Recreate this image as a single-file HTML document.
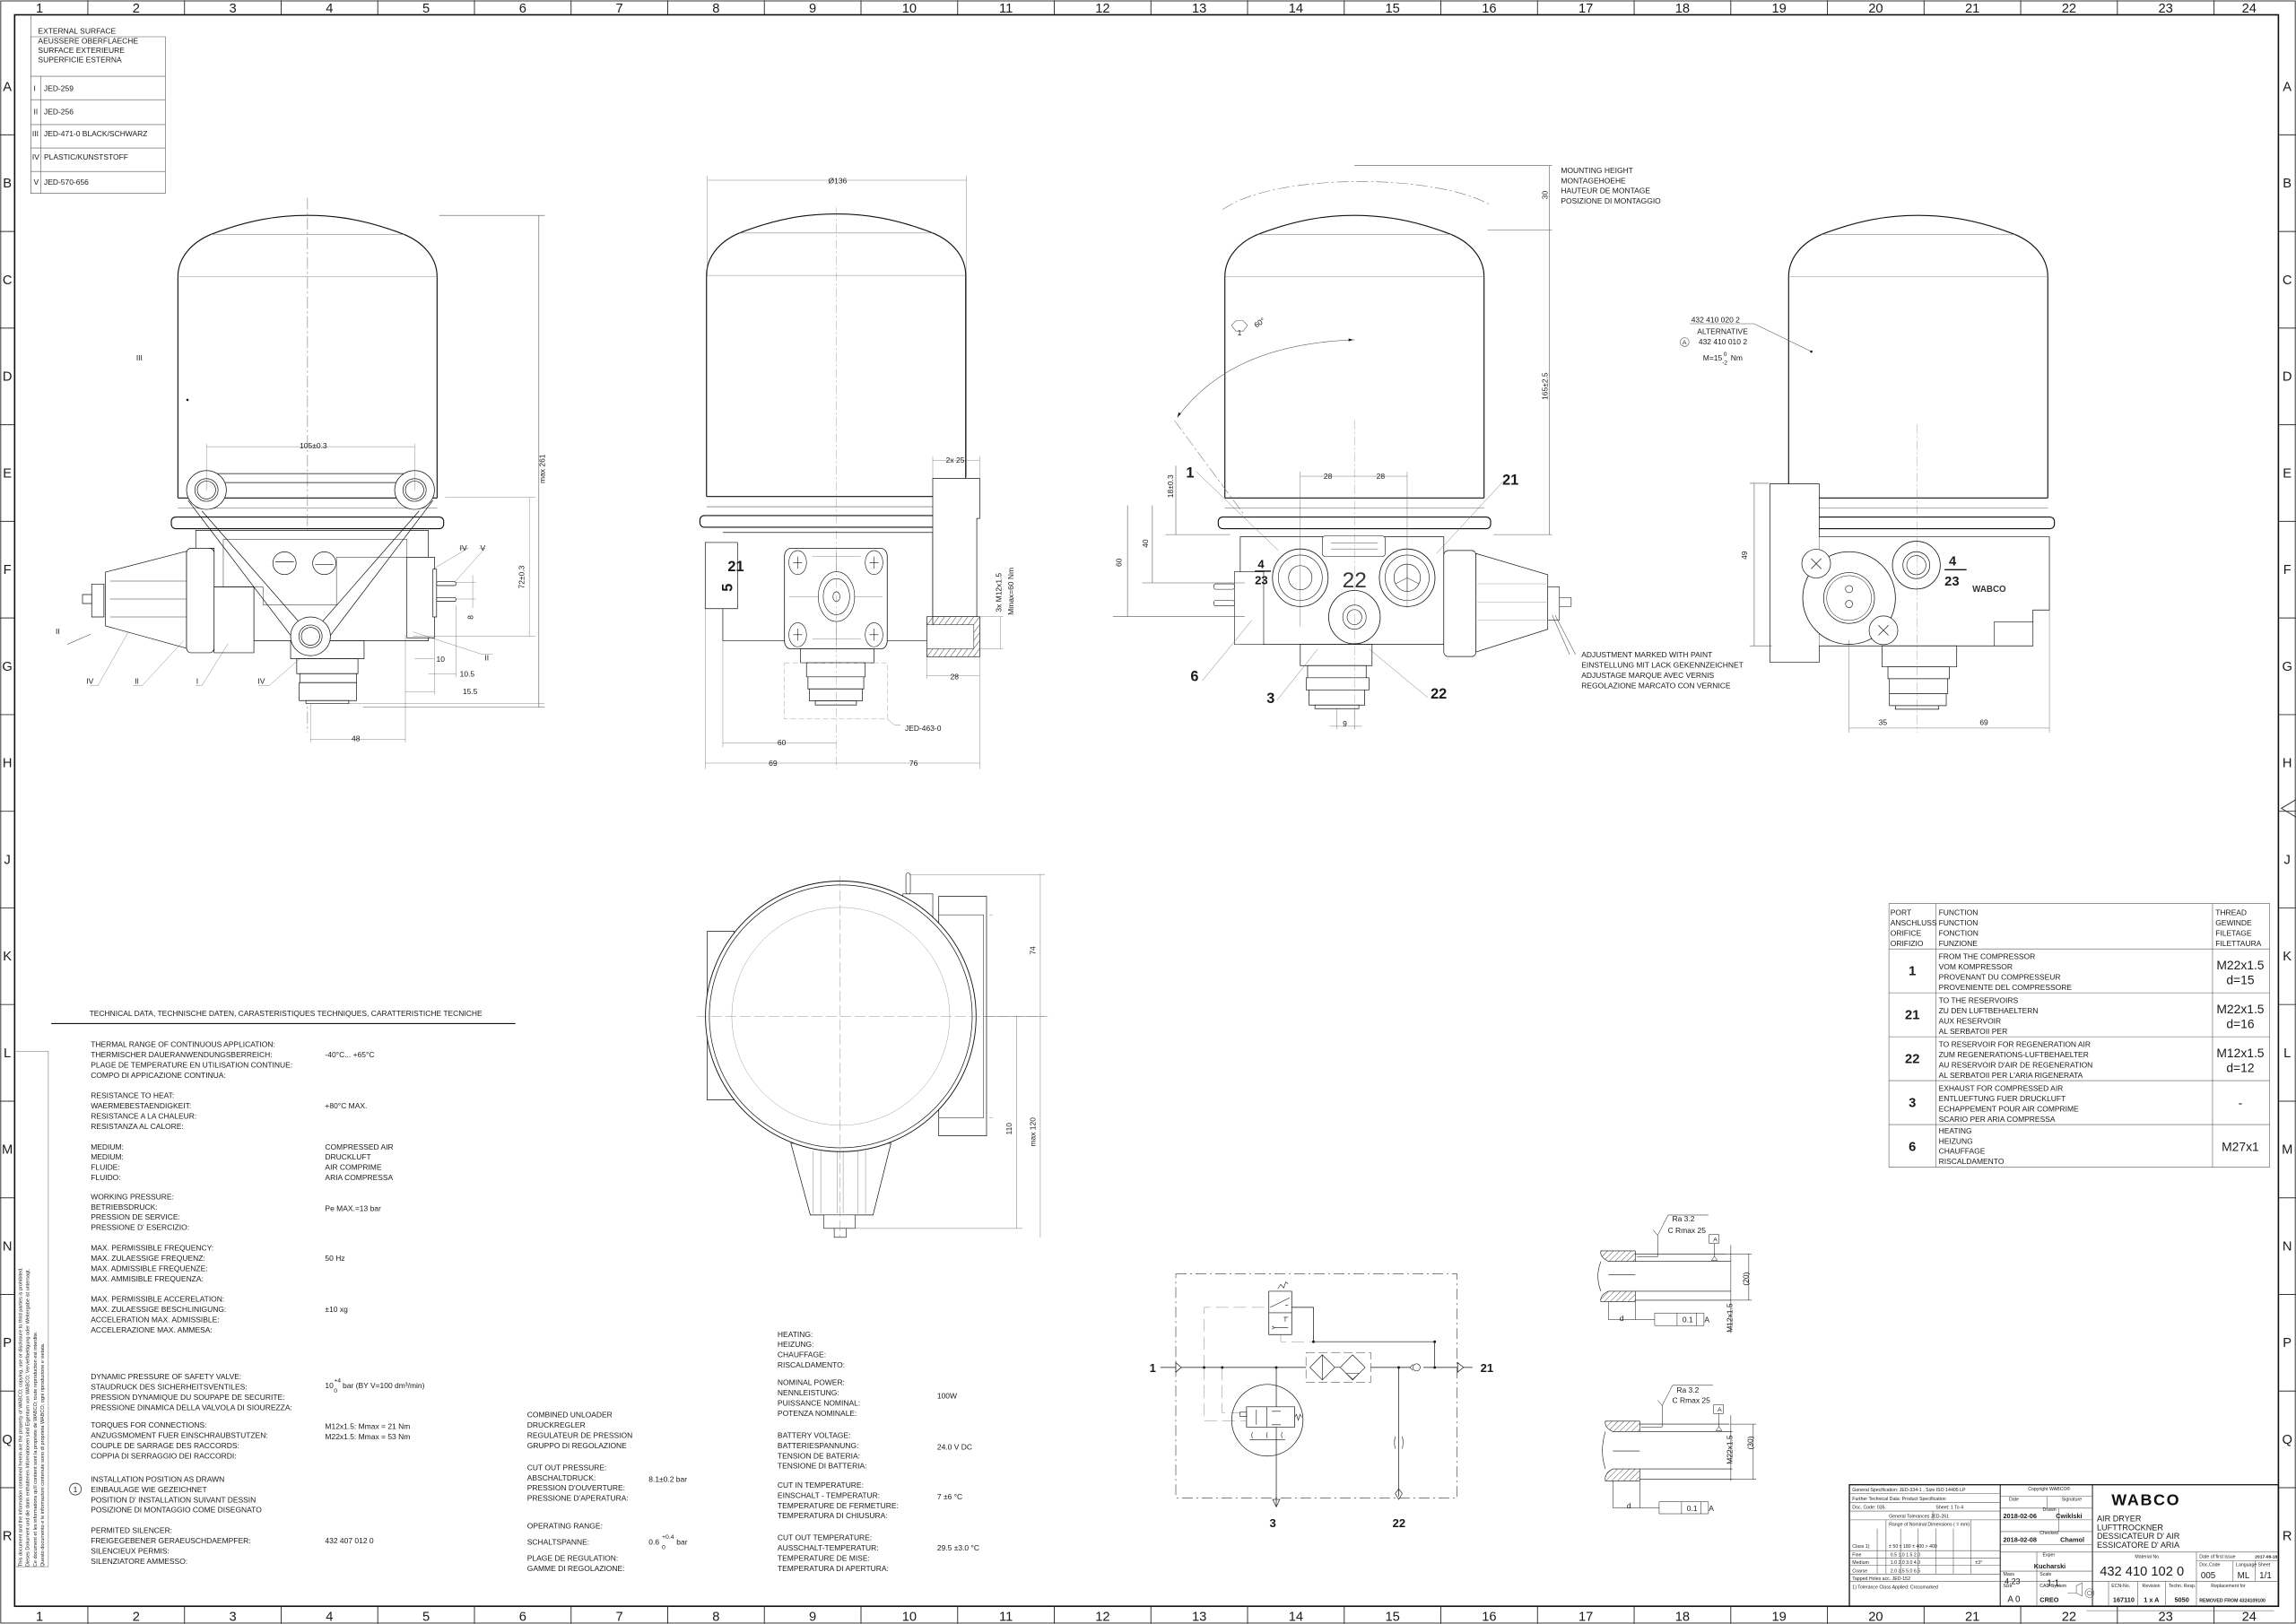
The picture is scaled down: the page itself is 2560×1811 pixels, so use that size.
<!DOCTYPE html>
<html><head><meta charset="utf-8"><style>
html,body{margin:0;padding:0;background:#fff}
svg{display:block}
text{font-family:"Liberation Sans Narrow","Liberation Sans",sans-serif;fill:#1a1a1a}
.t{font-size:5.2px}
.s{font-size:4.2px}
.m{font-size:8px}
.b{font-size:10px;font-weight:bold;font-family:"Liberation Sans",sans-serif}
.o{fill:none;stroke:#111;stroke-width:0.7}
.n{fill:none;stroke:#555;stroke-width:0.35}
.g{fill:none;stroke:#888;stroke-width:0.35}
.cl{fill:none;stroke:#777;stroke-width:0.35;stroke-dasharray:8 2 1.5 2}
.ns{vector-effect:non-scaling-stroke}
</style></head><body>
<svg width="2560" height="1811" viewBox="0 0 1568 1109" xmlns="http://www.w3.org/2000/svg">
<defs>
<pattern id="h" width="4" height="4" patternUnits="userSpaceOnUse" patternTransform="rotate(45)"><line x1="0" y1="0" x2="0" y2="4" stroke="#333" stroke-width="0.6"/></pattern>
<pattern id="hz" width="14" height="14" patternUnits="userSpaceOnUse" patternTransform="rotate(45)"><line x1="0" y1="0" x2="0" y2="14" stroke="#333" stroke-width="2.5"/></pattern>
<g id="cap">
<path class="o" d="M-88.5,193 V42 C-88.5,28 -78,18 -66,13 C-40,3 -20,0 0,0 C20,0 40,3 66,13 C78,18 88.5,28 88.5,42 V193"/>
<line class="g" x1="-66" y1="13" x2="66" y2="13"/>
<line class="g" x1="-88.5" y1="42" x2="88.5" y2="42"/>
<line class="o" x1="-88.5" y1="193" x2="88.5" y2="193"/>
<line class="n" x1="-88.5" y1="200" x2="88.5" y2="200"/>
<rect class="o" x="-93" y="206" width="186" height="8" rx="3"/>
</g>
</defs>

<!-- FRAME -->
<rect x="10" y="10" width="1546" height="1087" fill="none" stroke="#111" stroke-width="1"/>
<rect x="0.5" y="0.5" width="1567" height="1108" fill="none" stroke="#333" stroke-width="0.6"/>
<g stroke="#333" stroke-width="0.6">
<line x1="60" y1="0" x2="60" y2="10"/><line x1="126" y1="0" x2="126" y2="10"/><line x1="192" y1="0" x2="192" y2="10"/><line x1="258" y1="0" x2="258" y2="10"/><line x1="324" y1="0" x2="324" y2="10"/><line x1="390" y1="0" x2="390" y2="10"/><line x1="456" y1="0" x2="456" y2="10"/><line x1="522" y1="0" x2="522" y2="10"/><line x1="588" y1="0" x2="588" y2="10"/><line x1="654" y1="0" x2="654" y2="10"/><line x1="720" y1="0" x2="720" y2="10"/><line x1="786" y1="0" x2="786" y2="10"/><line x1="852" y1="0" x2="852" y2="10"/><line x1="918" y1="0" x2="918" y2="10"/><line x1="984" y1="0" x2="984" y2="10"/><line x1="1050" y1="0" x2="1050" y2="10"/><line x1="1116" y1="0" x2="1116" y2="10"/><line x1="1182" y1="0" x2="1182" y2="10"/><line x1="1248" y1="0" x2="1248" y2="10"/><line x1="1314" y1="0" x2="1314" y2="10"/><line x1="1380" y1="0" x2="1380" y2="10"/><line x1="1446" y1="0" x2="1446" y2="10"/><line x1="1512" y1="0" x2="1512" y2="10"/>
<line x1="60" y1="1097" x2="60" y2="1109"/><line x1="126" y1="1097" x2="126" y2="1109"/><line x1="192" y1="1097" x2="192" y2="1109"/><line x1="258" y1="1097" x2="258" y2="1109"/><line x1="324" y1="1097" x2="324" y2="1109"/><line x1="390" y1="1097" x2="390" y2="1109"/><line x1="456" y1="1097" x2="456" y2="1109"/><line x1="522" y1="1097" x2="522" y2="1109"/><line x1="588" y1="1097" x2="588" y2="1109"/><line x1="654" y1="1097" x2="654" y2="1109"/><line x1="720" y1="1097" x2="720" y2="1109"/><line x1="786" y1="1097" x2="786" y2="1109"/><line x1="852" y1="1097" x2="852" y2="1109"/><line x1="918" y1="1097" x2="918" y2="1109"/><line x1="984" y1="1097" x2="984" y2="1109"/><line x1="1050" y1="1097" x2="1050" y2="1109"/><line x1="1116" y1="1097" x2="1116" y2="1109"/><line x1="1182" y1="1097" x2="1182" y2="1109"/><line x1="1248" y1="1097" x2="1248" y2="1109"/><line x1="1314" y1="1097" x2="1314" y2="1109"/><line x1="1380" y1="1097" x2="1380" y2="1109"/><line x1="1446" y1="1097" x2="1446" y2="1109"/><line x1="1512" y1="1097" x2="1512" y2="1109"/>
<line x1="0" y1="92" x2="10" y2="92"/><line x1="0" y1="158" x2="10" y2="158"/><line x1="0" y1="224" x2="10" y2="224"/><line x1="0" y1="290" x2="10" y2="290"/><line x1="0" y1="356" x2="10" y2="356"/><line x1="0" y1="422" x2="10" y2="422"/><line x1="0" y1="488" x2="10" y2="488"/><line x1="0" y1="554" x2="10" y2="554"/><line x1="0" y1="620" x2="10" y2="620"/><line x1="0" y1="686" x2="10" y2="686"/><line x1="0" y1="752" x2="10" y2="752"/><line x1="0" y1="818" x2="10" y2="818"/><line x1="0" y1="884" x2="10" y2="884"/><line x1="0" y1="950" x2="10" y2="950"/><line x1="0" y1="1016" x2="10" y2="1016"/>
<line x1="1556" y1="92" x2="1568" y2="92"/><line x1="1556" y1="158" x2="1568" y2="158"/><line x1="1556" y1="224" x2="1568" y2="224"/><line x1="1556" y1="290" x2="1568" y2="290"/><line x1="1556" y1="356" x2="1568" y2="356"/><line x1="1556" y1="422" x2="1568" y2="422"/><line x1="1556" y1="488" x2="1568" y2="488"/><line x1="1556" y1="554" x2="1568" y2="554"/><line x1="1556" y1="620" x2="1568" y2="620"/><line x1="1556" y1="686" x2="1568" y2="686"/><line x1="1556" y1="752" x2="1568" y2="752"/><line x1="1556" y1="818" x2="1568" y2="818"/><line x1="1556" y1="884" x2="1568" y2="884"/><line x1="1556" y1="950" x2="1568" y2="950"/><line x1="1556" y1="1016" x2="1568" y2="1016"/>
</g>
<g font-size="9" text-anchor="middle" style="font-family:'Liberation Sans',sans-serif">
<text x="27" y="8.5">1</text><text x="93" y="8.5">2</text><text x="159" y="8.5">3</text><text x="225" y="8.5">4</text><text x="291" y="8.5">5</text><text x="357" y="8.5">6</text><text x="423" y="8.5">7</text><text x="489" y="8.5">8</text><text x="555" y="8.5">9</text><text x="621" y="8.5">10</text><text x="687" y="8.5">11</text><text x="753" y="8.5">12</text><text x="819" y="8.5">13</text><text x="885" y="8.5">14</text><text x="951" y="8.5">15</text><text x="1017" y="8.5">16</text><text x="1083" y="8.5">17</text><text x="1149" y="8.5">18</text><text x="1215" y="8.5">19</text><text x="1281" y="8.5">20</text><text x="1347" y="8.5">21</text><text x="1413" y="8.5">22</text><text x="1479" y="8.5">23</text><text x="1536" y="8.5">24</text>
<text x="27" y="1107">1</text><text x="93" y="1107">2</text><text x="159" y="1107">3</text><text x="225" y="1107">4</text><text x="291" y="1107">5</text><text x="357" y="1107">6</text><text x="423" y="1107">7</text><text x="489" y="1107">8</text><text x="555" y="1107">9</text><text x="621" y="1107">10</text><text x="687" y="1107">11</text><text x="753" y="1107">12</text><text x="819" y="1107">13</text><text x="885" y="1107">14</text><text x="951" y="1107">15</text><text x="1017" y="1107">16</text><text x="1083" y="1107">17</text><text x="1149" y="1107">18</text><text x="1215" y="1107">19</text><text x="1281" y="1107">20</text><text x="1347" y="1107">21</text><text x="1413" y="1107">22</text><text x="1479" y="1107">23</text><text x="1536" y="1107">24</text>
<text x="5" y="62">A</text><text x="5" y="128">B</text><text x="5" y="194">C</text><text x="5" y="260">D</text><text x="5" y="326">E</text><text x="5" y="392">F</text><text x="5" y="458">G</text><text x="5" y="524">H</text><text x="5" y="590">J</text><text x="5" y="656">K</text><text x="5" y="722">L</text><text x="5" y="788">M</text><text x="5" y="854">N</text><text x="5" y="920">P</text><text x="5" y="986">Q</text><text x="5" y="1052">R</text>
<text x="1562" y="62">A</text><text x="1562" y="128">B</text><text x="1562" y="194">C</text><text x="1562" y="260">D</text><text x="1562" y="326">E</text><text x="1562" y="392">F</text><text x="1562" y="458">G</text><text x="1562" y="524">H</text><text x="1562" y="590">J</text><text x="1562" y="656">K</text><text x="1562" y="722">L</text><text x="1562" y="788">M</text><text x="1562" y="854">N</text><text x="1562" y="920">P</text><text x="1562" y="986">Q</text><text x="1562" y="1052">R</text>
</g>
<path d="M1568,546 L1558,552 L1568,558" fill="none" stroke="#333" stroke-width="0.6"/>

<!-- SURFACE TABLE -->
<g>
<path class="n" d="M21,25 H113 V132 H21 Z M21,52 H113 M21,68 H113 M21,85 H113 M21,101 H113 M21,117 H113 M28,52 V132"/>
<text class="t" x="26" y="23">EXTERNAL SURFACE</text>
<text class="t" x="26" y="29.5">AEUSSERE OBERFLAECHE</text>
<text class="t" x="26" y="36">SURFACE EXTERIEURE</text>
<text class="t" x="26" y="42.5">SUPERFICIE ESTERNA</text>
<text class="t" x="23" y="62">I</text><text class="t" x="30" y="62">JED-259</text>
<text class="t" x="23" y="78">II</text><text class="t" x="30" y="78">JED-256</text>
<text class="t" x="22" y="93">III</text><text class="t" x="30" y="93">JED-471-0 BLACK/SCHWARZ</text>
<text class="t" x="22" y="109">IV</text><text class="t" x="30" y="109">PLASTIC/KUNSTSTOFF</text>
<text class="t" x="23" y="126">V</text><text class="t" x="30" y="126">JED-570-656</text>
</g>
<path d="M21,10 V132" class="n"/>

<!-- VIEW 1 -->
<use href="#cap" x="210" y="147"/>
<line class="cl" x1="210" y1="135" x2="210" y2="500"/>
<g transform="translate(45.9,290.7) scale(0.209,0.204)">
<g fill="none" stroke="#111" stroke-width="0.7">
<path class="ns" d="M420,350 H1180 V720 H970 V720 H730 V720 H610 V540 H480 V410 H420 Z" fill="#fff"/>
<path class="ns" d="M510,380 H1110 V440 H880 V600 H640 V540 H510 Z" fill="none" stroke="#666"/>
<circle class="ns" cx="710" cy="460" r="38"/><circle class="ns" cx="840" cy="460" r="38"/>
<line class="ns" x1="680" y1="455" x2="740" y2="455"/><line class="ns" x1="810" y1="465" x2="870" y2="465"/>
<path class="ns" d="M390,420 L125,490 L125,670 L390,745 Z" fill="#fff"/>
<path class="ns" d="M140,520 H390 M140,580 H390 M140,640 H390" stroke="#777"/>
<rect class="ns" x="390" y="410" width="90" height="350" rx="15" fill="#fff"/>
<rect class="ns" x="480" y="540" width="130" height="220" fill="#fff"/>
<rect class="ns" x="80" y="530" width="40" height="110" fill="#fff"/>
<rect class="ns" x="50" y="565" width="30" height="30" fill="#fff"/>
<rect class="ns" x="1110" y="440" width="90" height="270" fill="#fff"/>
<rect class="ns" x="1195" y="480" width="12" height="160" fill="#fff"/>
<rect class="ns" x="1207" y="522" width="63" height="13" rx="5" fill="#fff"/>
<rect class="ns" x="1207" y="575" width="63" height="13" rx="5" fill="#fff"/>
<rect class="ns" x="730" y="720" width="240" height="60" fill="#fff"/>
<rect class="ns" x="750" y="780" width="200" height="50" fill="#fff"/>
<rect class="ns" x="760" y="830" width="185" height="30" fill="#fff"/>
<rect class="ns" x="758" y="860" width="187" height="60" fill="#fff"/>
<rect class="ns" x="780" y="920" width="140" height="10" fill="#fff"/>
<path class="ns" d="M395,250 L740,715 M440,285 L760,660 M1195,250 L850,715 M1150,285 L830,660 M455,160 H1135 M480,190 H1110"/>
<circle class="ns" cx="455" cy="215" r="65" fill="#fff"/><circle class="ns" cx="455" cy="215" r="38"/><circle class="ns" cx="455" cy="215" r="30"/>
<circle class="ns" cx="1135" cy="215" r="65" fill="#fff"/><circle class="ns" cx="1135" cy="215" r="38"/><circle class="ns" cx="1135" cy="215" r="30"/>
<circle class="ns" cx="795" cy="705" r="65" fill="#fff"/><circle class="ns" cx="795" cy="705" r="38"/><circle class="ns" cx="795" cy="705" r="30"/>
</g>
<g fill="none" stroke="#555" stroke-width="0.35">
<path class="ns" d="M455,70 H1135 M455,60 V215 M1135,60 V215 M1235,240 H1530 M1130,705 H1530 M1510,240 V705 M1325,500 V610 M1270,525 H1335 M1270,580 H1335 M1135,780 H1200 M1180,830 H1270 M1105,890 H1200 M1105,700 V1060 M1200,700 V900 M1270,600 V840 M920,930 H1560 M795,930 V1060 M795,1050 H1105"/>
<path class="ns" d="M75,870 H100 L200,690 M215,870 H245 L380,720 M420,870 H440 L525,730 M625,870 H660 L760,780 M1280,410 H1310 L1195,480 M1345,410 H1365 L1265,525 M1390,765 H1355 L1130,690"/>
</g>
</g>
<g class="t">
<text x="214" y="306" text-anchor="middle">105±0.3</text>
<text transform="translate(358,402) rotate(-90)">72±0.3</text>
<text transform="translate(323,423) rotate(-90)">8</text>
<text x="298" y="452">10</text><text x="314" y="462">10.5</text><text x="316" y="474">15.5</text>
<text x="243" y="506" text-anchor="middle">48</text>
<text x="59" y="467">IV</text><text x="92" y="467">II</text><text x="134" y="467">I</text><text x="176" y="467">IV</text>
<text x="314" y="376">IV</text><text x="328" y="376">V</text><text x="331" y="451">II</text>
<text x="38" y="433">II</text><text x="93" y="246">III</text>
<text transform="translate(372,330) rotate(-90)">max 261</text>
</g>
<circle cx="128" cy="273" r="0.8" fill="#111"/>
<path class="n" d="M368,147 V483 M300,147 H372 M248,483 H372"/>
<path class="n" d="M46,440 L62,433"/>

<!-- VIEW 2 -->
<use href="#cap" x="571" y="146"/>
<g transform="matrix(0.2005,0,0,0.274,478.6,106)" fill="none" stroke="#111">
<rect class="ns" x="15" y="965" width="110" height="165" fill="#fff" stroke-width="0.7"/>
<path class="ns" d="M75,940 H790 V1210 H635 M285,1210 H75 V1130" fill="#fff" stroke-width="0.7"/>
<path class="ns" d="M790,805 H950 V905 H940 V1150 H790 Z" fill="#fff" stroke-width="0.7"/>
<rect class="ns" x="770" y="1150" width="180" height="100" fill="url(#hz)" stroke-width="0.7"/>
<rect class="ns" x="770" y="1170" width="160" height="60" fill="#fff" stroke-width="0.5"/>
<rect class="ns" x="285" y="980" width="350" height="250" rx="20" fill="#fff" stroke-width="0.8"/>
<path class="ns" d="M300,1100 H620 M462,990 V1220 M380,1000 H545 M380,1205 H545" stroke="#666" stroke-width="0.4"/>
<g stroke-width="0.6"><circle class="ns" cx="330" cy="1015" r="30" fill="#fff"/><circle class="ns" cx="590" cy="1015" r="30" fill="#fff"/><circle class="ns" cx="330" cy="1195" r="30" fill="#fff"/><circle class="ns" cx="590" cy="1195" r="30" fill="#fff"/>
<path class="ns" d="M315,1015 H345 M330,1000 V1030 M575,1015 H605 M590,1000 V1030 M315,1195 H345 M330,1180 V1210 M575,1195 H605 M590,1180 V1210"/>
<circle class="ns" cx="462" cy="1100" r="62" fill="#fff"/><circle class="ns" cx="462" cy="1100" r="45"/><circle class="ns" cx="462" cy="1100" r="12"/></g>
<rect class="ns" x="340" y="1230" width="250" height="35" fill="#fff" stroke-width="0.7"/>
<rect class="ns" x="360" y="1265" width="200" height="35" fill="#fff" stroke-width="0.7"/>
<rect class="ns" x="365" y="1300" width="190" height="30" fill="#fff" stroke-width="0.7"/>
<rect class="ns" x="370" y="1330" width="180" height="30" fill="#fff" stroke-width="0.7"/>
<rect class="ns" x="390" y="1360" width="140" height="10" fill="#fff" stroke-width="0.7"/>
<rect class="ns" x="285" y="1265" width="350" height="140" stroke="#888" stroke-dasharray="6 3" stroke-width="0.4"/>
<path class="ns" d="M462,130 V1530" stroke="#777" stroke-dasharray="10 3 2 3" stroke-width="0.35"/>
<path class="ns" d="M22,62 H905 M22,50 V300 M905,50 V800 M790,760 H950 M790,750 V805 M950,750 V805 M770,1297 H950 M770,1250 V1305 M950,1250 V1530 M75,1465 H462 M15,1515 H950 M15,1130 V1530 M75,1210 V1475 M1020,1150 V1230 M950,1150 H1030 M950,1230 H1030 M635,1405 L660,1420 H680" stroke="#555" stroke-width="0.35"/>
</g>
<g class="t">
<text x="572" y="125" text-anchor="middle">Ø136</text>
<text x="646" y="316">2x 25</text>
<text x="649" y="464">28</text>
<text x="618" y="499">JED-463-0</text>
<text x="531" y="509">60</text><text x="525" y="523">69</text><text x="621" y="523">76</text>
<text transform="translate(684,418) rotate(-90)">3x M12x1.5</text>
<text transform="translate(692,420) rotate(-90)">Mmax=60 Nm</text>
</g>
<text class="b" x="497" y="390">21</text>
<text class="b" transform="translate(500,404) rotate(-90)">5</text>

<!-- VIEW 3 -->
<use href="#cap" x="925" y="147"/>
<g transform="translate(797,291) scale(0.2,0.207)" fill="none" stroke="#111">
<path class="ns" d="M250,365 H945 V720 H700 V720 H455 V720 H330 V720 H250 Z" fill="#fff" stroke-width="0.7"/>
<rect class="ns" x="230" y="480" width="100" height="240" fill="#fff" stroke-width="0.6"/>
<rect class="ns" x="160" y="520" width="70" height="18" rx="6" fill="#fff" stroke-width="0.6"/>
<rect class="ns" x="160" y="575" width="70" height="18" rx="6" fill="#fff" stroke-width="0.6"/>
<rect class="ns" x="530" y="362" width="215" height="68" rx="10" fill="#fff" stroke-width="0.6"/>
<path class="ns" d="M560,385 H720 M560,405 H720" stroke="#444" stroke-width="0.5"/>
<circle class="ns" cx="455" cy="500" r="95" fill="#fff" stroke-width="0.8"/><circle class="ns" cx="455" cy="500" r="75" stroke-width="0.6"/><circle class="ns" cx="455" cy="500" r="40" stroke-width="0.6"/>
<circle class="ns" cx="820" cy="500" r="95" fill="#fff" stroke-width="0.8"/><circle class="ns" cx="820" cy="500" r="75" stroke-width="0.6"/><circle class="ns" cx="820" cy="500" r="45" stroke-width="0.6"/>
<path class="ns" d="M820,455 V545 M780,520 L820,500 L860,520" stroke-width="0.5"/>
<circle class="ns" cx="640" cy="630" r="88" fill="#fff" stroke-width="0.8"/><circle class="ns" cx="640" cy="630" r="40" stroke-width="0.6"/><circle class="ns" cx="640" cy="630" r="25" stroke-width="0.6"/>
<rect class="ns" x="945" y="410" width="110" height="350" rx="15" fill="#fff" stroke-width="0.7"/>
<path class="ns" d="M1055,420 L1300,490 L1300,670 L1055,745 Z" fill="#fff" stroke-width="0.7"/>
<path class="ns" d="M1060,520 H1295 M1060,580 H1295 M1060,640 H1295" stroke="#777" stroke-width="0.35"/>
<rect class="ns" x="1300" y="530" width="40" height="110" fill="#fff" stroke-width="0.6"/>
<rect class="ns" x="1340" y="565" width="40" height="30" fill="#fff" stroke-width="0.6"/>
<rect class="ns" x="455" y="720" width="245" height="70" fill="#fff" stroke-width="0.7"/>
<rect class="ns" x="480" y="790" width="200" height="40" fill="#fff" stroke-width="0.7"/>
<rect class="ns" x="475" y="830" width="215" height="40" fill="#fff" stroke-width="0.7"/>
<rect class="ns" x="485" y="870" width="190" height="50" fill="#fff" stroke-width="0.7"/>
<rect class="ns" x="505" y="920" width="150" height="12" fill="#fff" stroke-width="0.7"/>
<path class="ns" d="M640,-20 V1000" stroke="#777" stroke-dasharray="10 3 2 3" stroke-width="0.35"/>
<path class="ns" d="M455,165 H820 M455,150 V660 M820,150 V600 M100,150 L380,410 M1150,180 L920,420 M120,840 L290,640 M375,905 L515,735 M890,895 L690,735 M555,990 H665 M580,930 V1000 M640,930 V1000" stroke="#555" stroke-width="0.4"/>
</g>
<text x="925" y="401" text-anchor="middle" style="font-family:'Liberation Sans',sans-serif;font-size:15px;fill:#333">22</text>
<text class="b" x="859" y="388" style="font-size:8px">4</text>
<line x1="857" y1="390" x2="868" y2="390" stroke="#111" stroke-width="0.8"/>
<text class="b" x="857" y="399" style="font-size:8px">23</text>
<g class="b"><text x="810" y="326">1</text><text x="1026" y="331">21</text><text x="813" y="465">6</text><text x="865" y="480">3</text><text x="977" y="477">22</text></g>
<g class="t"><text x="917" y="496">9</text><text x="904" y="327">28</text><text x="940" y="327">28</text>
<text transform="translate(801,340) rotate(-90)">18±0.3</text>
<text transform="translate(784,374) rotate(-90)">40</text>
<text transform="translate(766,387) rotate(-90)">60</text>
<text transform="translate(1057,273) rotate(-90)">165±2.5</text>
<text transform="translate(1057,136) rotate(-90)">30</text>
<text x="1066" y="118">MOUNTING HEIGHT</text><text x="1066" y="125">MONTAGEHOEHE</text><text x="1066" y="132">HAUTEUR DE MONTAGE</text><text x="1066" y="139">POSIZIONE DI MONTAGGIO</text>
<text x="1080" y="449">ADJUSTMENT MARKED WITH PAINT</text><text x="1080" y="456">EINSTELLUNG MIT LACK GEKENNZEICHNET</text><text x="1080" y="463">ADJUSTAGE MARQUE AVEC VERNIS</text><text x="1080" y="470">REGOLAZIONE MARCATO CON VERNICE</text>
<text transform="translate(858,224) rotate(-35)">60°</text>
<text x="845" y="229">1</text>
</g>
<path class="n" d="M841,222 L844,219 H849 L852,222 L849,226 H844 Z"/>
<path class="n" d="M925,113 H1060 M1016,157 H1060 M1020,365 H1060 M1058,113 V365 M770,345 V421 M760,421 H850 M787,345 V398 M780,398 H850 M803,318 V365 M796,365 H840 M1072,447 L1060,420 M1076,447 L1062,420"/>
<path class="cl" d="M835,143 C870,118 980,118 1018,140"/>
<path class="n" d="M925,232 C870,234 830,250 804,285"/>
<path class="cl" d="M802,287 L850,352"/>
<path d="M924,232 l-3,-1 v2 Z M804,285 l1,-3.5 l1.5,1 Z" fill="#111"/>

<!-- VIEW 4 -->
<use href="#cap" x="1310" y="147"/>
<g transform="translate(1200.5,294) scale(0.2042)" fill="none" stroke="#111">
<path class="ns" d="M40,178 H205 V775 H40 Z" fill="#fff" stroke-width="0.7"/>
<path class="ns" d="M205,355 H975 V600 H920 V720 H700 V720 H415 V720 H205" fill="#fff" stroke-width="0.7"/>
<circle class="ns" cx="305" cy="560" r="155" fill="#fff" stroke-width="0.8"/>
<circle class="ns" cx="305" cy="560" r="85" stroke-width="0.7"/><circle class="ns" cx="305" cy="560" r="75" stroke-width="0.5"/>
<circle class="ns" cx="305" cy="530" r="12" stroke-width="0.6"/><circle class="ns" cx="305" cy="580" r="12" stroke-width="0.6"/>
<circle class="ns" cx="195" cy="445" r="48" fill="#fff" stroke-width="0.7"/><path class="ns" d="M178,428 L212,462 M212,428 L178,462" stroke-width="0.7"/>
<circle class="ns" cx="420" cy="668" r="48" fill="#fff" stroke-width="0.7"/><path class="ns" d="M403,651 L437,685 M437,651 L403,685" stroke-width="0.7"/>
<circle class="ns" cx="530" cy="450" r="80" fill="#fff" stroke-width="0.8"/><circle class="ns" cx="530" cy="450" r="45" stroke-width="0.7"/><circle class="ns" cx="530" cy="450" r="32" stroke-width="0.6"/>
<rect class="ns" x="415" y="720" width="250" height="70" fill="#fff" stroke-width="0.7"/>
<rect class="ns" x="435" y="790" width="205" height="40" fill="#fff" stroke-width="0.7"/>
<rect class="ns" x="440" y="830" width="195" height="50" fill="#fff" stroke-width="0.7"/>
<rect class="ns" x="440" y="880" width="190" height="40" fill="#fff" stroke-width="0.7"/>
<rect class="ns" x="460" y="920" width="145" height="12" fill="#fff" stroke-width="0.7"/>
<rect class="ns" x="790" y="640" width="130" height="80" fill="#fff" stroke-width="0.6"/>
<path class="ns" d="M533,-20 V1010" stroke="#777" stroke-dasharray="10 3 2 3" stroke-width="0.35"/>
<path class="ns" d="M305,995 H975 M305,700 V1010 M975,600 V1010" stroke="#555" stroke-width="0.4"/>
</g>
<text class="b" x="1331" y="386" style="font-size:9px">4</text>
<line x1="1328" y1="389" x2="1343" y2="389" stroke="#111" stroke-width="0.8"/>
<text class="b" x="1328" y="400" style="font-size:9px">23</text>
<text x="1347" y="404" style="font-family:'Liberation Sans',sans-serif;font-size:6px;font-weight:bold;fill:#333">WABCO</text>
<g class="t"><text x="1283" y="495">35</text><text x="1352" y="495">69</text>
<text transform="translate(1193,382) rotate(-90)">49</text>
<text x="1155" y="220">432 410 020 2</text><text x="1159" y="228">ALTERNATIVE</text><text x="1160" y="235">432 410 010 2</text><text x="1163" y="246">M=15</text><text x="1177" y="243" class="s">0</text><text x="1176" y="249" class="s">-2</text><text x="1182" y="246">Nm</text>
<text x="1149" y="235" class="s">A</text></g>
<circle class="n" cx="1150.5" cy="233.5" r="3"/>
<path class="n" d="M1154,221 H1198 L1237,240 M1198,330 V441 M1195,330 H1208 M1195,441 H1210"/>
<circle cx="1237" cy="240" r="0.8" fill="#111"/>

<!-- BOTTOM VIEW -->
<g transform="translate(467.7,588) scale(0.204)" fill="none" stroke="#111">
<rect class="ns" x="75" y="235" width="90" height="565" fill="#fff" stroke-width="0.7"/>
<rect class="ns" x="730" y="110" width="100" height="80" fill="#fff" stroke-width="0.6"/>
<rect class="ns" x="740" y="40" width="15" height="70" rx="7" fill="#fff" stroke-width="0.6"/>
<rect class="ns" x="850" y="118" width="160" height="802" fill="#fff" stroke-width="0.7"/>
<path class="ns" d="M850,180 H1000 V860 H850" stroke-width="0.5"/>
<path class="ns" d="M355,945 L690,945 L630,1185 L420,1185 Z" fill="#fff" stroke-width="0.7"/>
<path class="ns" d="M430,970 V1180 M455,970 V1180 M510,970 V1180 M530,970 V1180 M580,970 V1180 M605,970 V1180" stroke="#666" stroke-width="0.4"/>
<rect class="ns" x="465" y="1185" width="105" height="45" fill="#fff" stroke-width="0.6"/>
<rect class="ns" x="500" y="1230" width="40" height="30" fill="#fff" stroke-width="0.6"/>
<circle class="ns" cx="522" cy="520" r="453" fill="#fff" stroke-width="0.9"/>
<circle class="ns" cx="522" cy="520" r="440" stroke-width="0.7"/>
<circle class="ns" cx="522" cy="520" r="365" stroke="#888" stroke-width="0.4"/>
<path class="ns" d="M40,520 H1215 M520,50 V1260" stroke="#777" stroke-dasharray="12 4" stroke-width="0.4"/>
<path class="ns" d="M1190,45 V1260 M1110,520 V1230 M750,45 H1205 M560,1230 H1130 M1000,520 H1205 M1020,180 H1030 M1020,860 H1030" stroke="#555" stroke-width="0.4"/>
</g>
<g class="t"><text transform="translate(707,652) rotate(-90)">74</text><text transform="translate(691,775) rotate(-90)">110</text><text transform="translate(707,783) rotate(-90)">max 120</text></g>

<!-- TECH DATA -->
<g class="t">
<text x="61" y="694">TECHNICAL DATA, TECHNISCHE DATEN, CARASTERISTIQUES TECHNIQUES, CARATTERISTICHE TECNICHE</text>
<line x1="35" y1="699" x2="352" y2="699" stroke="#111" stroke-width="0.7"/>
<text x="62" y="715">THERMAL RANGE OF CONTINUOUS APPLICATION:</text><text x="62" y="722">THERMISCHER DAUERANWENDUNGSBERREICH:</text><text x="62" y="729">PLAGE DE TEMPERATURE EN UTILISATION CONTINUE:</text><text x="62" y="736">COMPO DI APPICAZIONE CONTINUA:</text>
<text x="222" y="722">-40°C... +65°C</text>
<text x="62" y="750">RESISTANCE TO HEAT:</text><text x="62" y="757">WAERMEBESTAENDIGKEIT:</text><text x="62" y="764">RESISTANCE A LA CHALEUR:</text><text x="62" y="771">RESISTANZA AL CALORE:</text>
<text x="222" y="757">+80°C MAX.</text>
<text x="62" y="785">MEDIUM:</text><text x="62" y="792">MEDIUM:</text><text x="62" y="799">FLUIDE:</text><text x="62" y="806">FLUIDO:</text>
<text x="222" y="785">COMPRESSED AIR</text><text x="222" y="792">DRUCKLUFT</text><text x="222" y="799">AIR COMPRIME</text><text x="222" y="806">ARIA COMPRESSA</text>
<text x="62" y="819">WORKING PRESSURE:</text><text x="62" y="826">BETRIEBSDRUCK:</text><text x="62" y="833">PRESSION DE SERVICE:</text><text x="62" y="840">PRESSIONE D' ESERCIZIO:</text>
<text x="222" y="827">Pe MAX.=13 bar</text>
<text x="62" y="854">MAX. PERMISSIBLE FREQUENCY:</text><text x="62" y="861">MAX. ZULAESSIGE FREQUENZ:</text><text x="62" y="868">MAX. ADMISSIBLE FREQUENZE:</text><text x="62" y="875">MAX. AMMISIBLE FREQUENZA:</text>
<text x="222" y="861">50 Hz</text>
<text x="62" y="889">MAX. PERMISSIBLE ACCERELATION:</text><text x="62" y="896">MAX. ZULAESSIGE BESCHLINIGUNG:</text><text x="62" y="903">ACCELERATION MAX. ADMISSIBLE:</text><text x="62" y="910">ACCELERAZIONE MAX. AMMESA:</text>
<text x="222" y="896">±10 xg</text>
<text x="62" y="942">DYNAMIC PRESSURE OF SAFETY VALVE:</text><text x="62" y="949">STAUDRUCK DES SICHERHEITSVENTILES:</text><text x="62" y="956">PRESSION DYNAMIQUE DU SOUPAPE DE SECURITE:</text><text x="62" y="963">PRESSIONE DINAMICA DELLA VALVOLA DI SIOUREZZA:</text>
<text x="222" y="948">10</text><text x="228" y="944" class="s">+4</text><text x="228" y="951" class="s">0</text><text x="234" y="948">bar (BY V=100 dm³/min)</text>
<text x="62" y="975">TORQUES FOR CONNECTIONS:</text><text x="62" y="982">ANZUGSMOMENT FUER EINSCHRAUBSTUTZEN:</text><text x="62" y="989">COUPLE DE SARRAGE DES RACCORDS:</text><text x="62" y="996">COPPIA DI SERRAGGIO DEI RACCORDI:</text>
<text x="222" y="976">M12x1.5: Mmax = 21 Nm</text><text x="222" y="983">M22x1.5: Mmax = 53 Nm</text>
<text x="62" y="1012">INSTALLATION POSITION AS DRAWN</text><text x="62" y="1019">EINBAULAGE WIE GEZEICHNET</text><text x="62" y="1026">POSITION D' INSTALLATION SUIVANT DESSIN</text><text x="62" y="1033">POSIZIONE DI MONTAGGIO COME DISEGNATO</text>
<text x="50" y="1019">1</text>
<text x="62" y="1047">PERMITED SILENCER:</text><text x="62" y="1054">FREIGEGEBENER GERAEUSCHDAEMPFER:</text><text x="62" y="1061">SILENCIEUX PERMIS:</text><text x="62" y="1068">SILENZIATORE AMMESSO:</text>
<text x="222" y="1054">432 407 012 0</text>
<text x="360" y="968">COMBINED UNLOADER</text><text x="360" y="975">DRUCKREGLER</text><text x="360" y="982">REGULATEUR DE PRESSION</text><text x="360" y="989">GRUPPO DI REGOLAZIONE</text>
<text x="360" y="1004">CUT OUT PRESSURE:</text><text x="360" y="1011">ABSCHALTDRUCK:</text><text x="360" y="1018">PRESSION D'OUVERTURE:</text><text x="360" y="1025">PRESSIONE D'APERATURA:</text>
<text x="443" y="1012">8.1±0.2 bar</text>
<text x="360" y="1044">OPERATING RANGE:</text><text x="360" y="1055">SCHALTSPANNE:</text><text x="360" y="1066">PLAGE DE REGULATION:</text><text x="360" y="1073">GAMME DI REGOLAZIONE:</text>
<text x="443" y="1055">0.6</text><text x="452" y="1051" class="s">+0.4</text><text x="452" y="1058" class="s">0</text><text x="462" y="1055">bar</text>
<text x="531" y="913">HEATING:</text><text x="531" y="920">HEIZUNG:</text><text x="531" y="927">CHAUFFAGE:</text><text x="531" y="934">RISCALDAMENTO:</text>
<text x="531" y="946">NOMINAL POWER:</text><text x="531" y="953">NENNLEISTUNG:</text><text x="531" y="960">PUISSANCE NOMINAL:</text><text x="531" y="967">POTENZA NOMINALE:</text>
<text x="640" y="955">100W</text>
<text x="531" y="982">BATTERY VOLTAGE:</text><text x="531" y="989">BATTERIESPANNUNG:</text><text x="531" y="996">TENSION DE BATERIA:</text><text x="531" y="1003">TENSIONE DI BATTERIA:</text>
<text x="640" y="990">24.0 V DC</text>
<text x="531" y="1016">CUT IN TEMPERATURE:</text><text x="531" y="1023">EINSCHALT - TEMPERATUR:</text><text x="531" y="1030">TEMPERATURE DE FERMETURE:</text><text x="531" y="1037">TEMPERATURA DI CHIUSURA:</text>
<text x="640" y="1024">7 ±6 °C</text>
<text x="531" y="1052">CUT OUT TEMPERATURE:</text><text x="531" y="1059">AUSSCHALT-TEMPERATUR:</text><text x="531" y="1066">TEMPERATURE DE MISE:</text><text x="531" y="1073">TEMPERATURA DI APERTURA:</text>
<text x="640" y="1059">29.5 ±3.0 °C</text>
</g>
<circle cx="51.5" cy="1017" r="4" fill="none" stroke="#333" stroke-width="0.5"/>
<!-- left margin notes -->
<g fill="#888" font-size="3.4" style="font-family:'Liberation Sans',sans-serif">
<text transform="translate(15,1070) rotate(-90)">This document and the information contained herein are the property of WABCO; copying, use or disclosure to third parties is prohibited.</text>
<text transform="translate(20,1070) rotate(-90)">Dieses Dokument und die darin enthaltenen Informationen sind Eigentum von WABCO; Vervielfaeltigung oder Weitergabe ist untersagt.</text>
<text transform="translate(25,1070) rotate(-90)">Ce document et les informations qu'il contient sont la propriete de WABCO; toute reproduction est interdite.</text>
<text transform="translate(30,1070) rotate(-90)">Questo documento e le informazioni contenute sono di proprieta WABCO; ogni riproduzione e vietata.</text>
</g>
<path d="M11,718 H33 V1070 H11" fill="none" stroke="#888" stroke-width="0.4"/>

<!-- SCHEMATIC -->
<g transform="translate(790.4,844.5) scale(0.203,0.204)" fill="none" stroke="#111">
<rect class="ns" x="62" y="125" width="946" height="750" stroke="#333" stroke-dasharray="12 4 2 4" stroke-width="0.6"/>
<path class="ns" d="M10,438 H500 M718,438 H850 M895,438 H1060" stroke-width="0.7"/>
<path class="ns" d="M62,422 L80,438 L62,454 Z M1010,422 L1030,438 L1010,454 Z" stroke-width="0.7" fill="#fff"/>
<path class="ns" d="M157,438 V617 H300 M157,438 V237 H375 M218,438 V590 H280 M415,328 V352 H525" stroke="#888" stroke-dasharray="14 6" stroke-width="0.5"/>
<rect class="ns" x="375" y="183" width="77" height="145" stroke-width="0.7"/>
<path class="ns" d="M375,255 H452 M380,237 L445,205 M395,305 H440 M385,310 L395,305 L385,300 M430,230 H440 M430,270 V285 M425,270 H440 M405,175 L415,160 L425,172 L432,152 L440,158" stroke-width="0.6"/>
<path class="ns" d="M452,237 H525 V352 H933 V438" stroke-width="0.7"/>
<rect class="ns" x="500" y="388" width="218" height="100" stroke="#333" stroke-dasharray="10 4" stroke-width="0.5"/>
<path class="ns" d="M555,396 L597,438 L555,480 L513,438 Z M657,396 L699,438 L657,480 L615,438 Z M597,438 H615 M555,396 V480 M635,458 H679 L657,478 Z" stroke-width="0.6"/>
<circle class="ns" cx="872" cy="438" r="12" stroke-width="0.6" fill="#fff"/>
<path class="ns" d="M850,438 L860,428 M850,438 L860,448" stroke-width="0.6"/>
<path class="ns" d="M400,438 V905 M812,438 V870" stroke-width="0.7"/>
<path class="ns" d="M388,880 L400,905 L412,880 Z M800,860 L812,845 L824,860 L812,880 Z" stroke-width="0.6"/>
<circle class="ns" cx="370" cy="615" r="120" stroke-width="0.7"/>
<rect class="ns" x="300" y="570" width="162" height="68" fill="#fff" stroke-width="0.7"/>
<path class="ns" d="M368,570 V638 M333,580 V630 M385,585 H415 M385,630 H415 M278,588 H300 V602 H278 Z M462,605 L468,595 L474,615 L480,595 L486,605 M310,680 H430 M320,655 Q315,665 320,675 M370,655 Q365,665 370,675 M420,655 Q415,665 420,675" stroke-width="0.6"/>
<path class="ns" d="M800,670 Q795,690 800,710 M824,670 Q829,690 824,710" stroke-width="0.6"/>
</g>
<g fill="#111">
<circle cx="822.3" cy="933.9" r="0.9"/><circle cx="834.7" cy="933.9" r="0.9"/><circle cx="871.6" cy="933.9" r="0.9"/><circle cx="955.2" cy="933.9" r="0.9"/><circle cx="979.8" cy="933.9" r="0.9"/><circle cx="897" cy="916.3" r="0.9"/><circle cx="979.8" cy="916.3" r="0.9"/>
</g>
<g class="b" style="font-size:8px"><text x="785" y="937">1</text><text x="1011" y="937">21</text><text x="867" y="1043">3</text><text x="951" y="1043">22</text></g>

<!-- SECTIONS -->
<g transform="translate(1078,809.4) scale(0.204)" fill="none" stroke="#111">
<g>
<path class="ns" d="M75,220 H190 V255 H100 Q70,240 75,220 Z" fill="url(#hz)" stroke-width="0.6"/>
<path class="ns" d="M100,355 H190 V390 H75 Q70,370 100,355 Z" fill="url(#hz)" stroke-width="0.6"/>
<path class="ns" d="M75,255 Q55,305 75,355 M190,255 H510 M190,355 H510 M190,385 H510 M190,230 H495 M100,300 H190" stroke-width="0.6"/>
<path class="ns" d="M250,150 L265,168 L300,100 H435 M265,168 V240 H195 M437,165 H470 V195 H437 Z M455,195 V240 M445,252 L455,238 L465,252 Z M510,200 V495 M495,230 H580 M510,385 H580 M570,230 V385 M100,390 V450 H190 M190,390 V450 M190,450 H255 M255,428 H420 V470 H255 Z M330,428 V470 M395,428 V470" stroke-width="0.5"/>
</g>
<g transform="translate(15,570)">
<path class="ns" d="M75,220 H190 V255 H100 Q70,240 75,220 Z" fill="url(#hz)" stroke-width="0.6"/>
<path class="ns" d="M100,380 H190 V420 H75 Q70,395 100,380 Z" fill="url(#hz)" stroke-width="0.6"/>
<path class="ns" d="M75,255 Q55,320 75,380 M190,255 H500 M190,380 H500 M190,415 H500 M190,230 H490 M100,320 H190" stroke-width="0.6"/>
<path class="ns" d="M250,150 L265,168 L300,100 H435 M265,168 V240 H195 M437,165 H470 V195 H437 Z M455,195 V240 M445,252 L455,238 L465,252 Z M495,200 V420 M495,230 H580 M495,415 H580 M570,230 V415 M100,420 V510 H190 M190,420 V510 M190,510 H255 M255,490 H420 V530 H255 Z M330,490 V530 M395,490 V530" stroke-width="0.5"/>
</g>
</g>
<g class="t">
<text x="1142" y="834">Ra 3.2</text><text x="1139" y="842">C Rmax 25</text><text x="1170" y="848" class="s">A</text>
<text transform="translate(1194,878) rotate(-90)">(20)</text>
<text transform="translate(1183,910) rotate(-90)">M12x1.5</text>
<text x="1106" y="902">d</text><text x="1149" y="903">0.1</text><text x="1164" y="903">A</text>
<text x="1145" y="951">Ra 3.2</text><text x="1142" y="958">C Rmax 25</text><text x="1173" y="964" class="s">A</text>
<text transform="translate(1183,1000) rotate(-90)">M22x1.5</text>
<text transform="translate(1197,990) rotate(-90)">(30)</text>
<text x="1111" y="1030">d</text><text x="1152" y="1032">0.1</text><text x="1167" y="1032">A</text>
</g>

<!-- PORT TABLE -->
<g>
<path class="n" d="M1290,617 H1550 V797 H1290 Z M1322,617 V797 M1511,617 V797 M1290,648 H1550 M1290,678 H1550 M1290,708 H1550 M1290,738 H1550 M1290,768 H1550"/>
<g class="t">
<text x="1291" y="625">PORT</text><text x="1291" y="632">ANSCHLUSS</text><text x="1291" y="639">ORIFICE</text><text x="1291" y="646">ORIFIZIO</text>
<text x="1324" y="625">FUNCTION</text><text x="1324" y="632">FUNCTION</text><text x="1324" y="639">FONCTION</text><text x="1324" y="646">FUNZIONE</text>
<text x="1513" y="625">THREAD</text><text x="1513" y="632">GEWINDE</text><text x="1513" y="639">FILETAGE</text><text x="1513" y="646">FILETTAURA</text>
<text x="1324" y="655">FROM THE COMPRESSOR</text><text x="1324" y="662">VOM KOMPRESSOR</text><text x="1324" y="669">PROVENANT DU COMPRESSEUR</text><text x="1324" y="676">PROVENIENTE DEL COMPRESSORE</text>
<text x="1324" y="685">TO THE RESERVOIRS</text><text x="1324" y="692">ZU DEN LUFTBEHAELTERN</text><text x="1324" y="699">AUX RESERVOIR</text><text x="1324" y="706">AL SERBATOII PER</text>
<text x="1324" y="715">TO RESERVOIR FOR REGENERATION AIR</text><text x="1324" y="722">ZUM REGENERATIONS-LUFTBEHAELTER</text><text x="1324" y="729">AU RESERVOIR D'AIR DE REGENERATION</text><text x="1324" y="736">AL SERBATOII PER L'ARIA RIGENERATA</text>
<text x="1324" y="745">EXHAUST FOR COMPRESSED AIR</text><text x="1324" y="752">ENTLUEFTUNG FUER DRUCKLUFT</text><text x="1324" y="759">ECHAPPEMENT POUR AIR COMPRIME</text><text x="1324" y="766">SCARIO PER ARIA COMPRESSA</text>
<text x="1324" y="774">HEATING</text><text x="1324" y="781">HEIZUNG</text><text x="1324" y="788">CHAUFFAGE</text><text x="1324" y="795">RISCALDAMENTO</text>
</g>
<g class="b" text-anchor="middle" style="font-size:9px"><text x="1306" y="666">1</text><text x="1306" y="696">21</text><text x="1306" y="726">22</text><text x="1306" y="756">3</text><text x="1306" y="786">6</text></g>
<g text-anchor="middle" style="font-family:'Liberation Sans',sans-serif;font-size:8.5px;fill:#222"><text x="1530" y="662">M22x1.5</text><text x="1530" y="672">d=15</text><text x="1530" y="692">M22x1.5</text><text x="1530" y="702">d=16</text><text x="1530" y="722">M12x1.5</text><text x="1530" y="732">d=12</text><text x="1530" y="756">-</text><text x="1530" y="786">M27x1</text></g>
</g>

<!-- TITLE BLOCK -->
<g>
<rect x="1263" y="1014" width="293" height="83" fill="none" stroke="#111" stroke-width="0.8"/>
<path d="M1366,1014 V1097 M1429,1014 V1097" stroke="#111" stroke-width="0.6"/>
<path class="n" d="M1263,1020 H1366 M1263,1026 H1366 M1263,1032 H1366 M1263,1038 H1366 M1263,1059 H1366 M1263,1064 H1366 M1263,1069 H1366 M1263,1075 H1366 M1263,1080 H1366 M1282,1044 V1075 M1288,1038 V1075 M1298,1044 V1075 M1310,1044 V1075 M1322,1044 V1075 M1334,1044 V1075 M1346,1038 V1075 M1320,1032 V1038 M1366,1022 H1429 M1366,1030 H1429 M1366,1038 H1429 M1366,1046 H1429 M1366,1055 H1429 M1366,1060 H1556 M1366,1073 H1429 M1366,1080 H1556 M1391,1060 V1097 M1398,1022 V1030 M1406,1030 V1046 M1500,1060 V1097 M1460,1080 V1097 M1479,1080 V1097 M1525,1066 V1080 M1540,1066 V1080 M1500,1066 H1556 M1440,1080 V1097"/>
<g fill="#666" font-size="3.2" style="font-family:'Liberation Sans',sans-serif">
<text x="1265" y="1018.5">General Specification: JED-334-1 , Size ISO 14405 LP</text>
<text x="1265" y="1024.5">Further Technical Data: Product Specification</text>
<text x="1265" y="1030.5">Doc. Code: 035</text><text x="1322" y="1030.5">Sheet: 1 To 4</text>
<text x="1290" y="1036.5">General Tolerances JED-261</text>
<text x="1290" y="1042">Range of Nominal Dimensions ( = mm)</text>
<text x="1265" y="1057">Class 1)</text>
<text x="1290" y="1057">± 50  ± 180  ± 400  &gt; 400</text>
<text x="1265" y="1063">Fine</text><text x="1291" y="1063">0.5   1.0   1.5   2.0</text>
<text x="1265" y="1068">Medium</text><text x="1291" y="1068">1.0   2.0   3.0   4.0</text><text x="1349" y="1068">±3°</text>
<text x="1265" y="1074">Coarse</text><text x="1291" y="1074">2.0   3.5   5.0   6.5</text>
<text x="1265" y="1079">Tapped Holes acc. JED-152</text>
<text x="1265" y="1085">1) Tolerance Class Applied: Crossmarked</text>
<text x="1385" y="1018">Copyright WABCO®</text>
<text x="1372" y="1025">Date</text><text x="1408" y="1025">Signature</text>
<text x="1395" y="1032">Drawn</text><text x="1393" y="1048">Checked</text><text x="1395" y="1063">Exper</text>
<text x="1368" y="1076">Mass</text><text x="1393" y="1076">Scale</text><text x="1368" y="1084">Size</text><text x="1393" y="1084">CAD System</text>
<text x="1458" y="1064">Material No.</text>
<text x="1502" y="1064">Date of first issue</text><text x="1502" y="1069.5">Doc.Code</text><text x="1527" y="1069.5">Language</text><text x="1542" y="1069.5">Sheet</text>
<text x="1442" y="1084">ECN-No.</text><text x="1463" y="1084">Revision</text><text x="1481" y="1084">Techn. Resp.</text><text x="1510" y="1084">Replacement for</text>
</g>
<text x="1442" y="1028" style="font-family:'Liberation Sans',sans-serif;font-size:11px;font-weight:900;fill:#111;letter-spacing:1px">WABCO</text>
<g style="font-family:'Liberation Mono',monospace;font-size:5.6px;fill:#111">
<text x="1432" y="1039">AIR DRYER</text><text x="1432" y="1045">LUFTTROCKNER</text><text x="1432" y="1051">DESSICATEUR D' AIR</text><text x="1432" y="1057">ESSICATORE D' ARIA</text>
</g>
<g style="font-family:'Liberation Sans',sans-serif;font-size:4.5px;fill:#111;font-weight:bold">
<text x="1368" y="1037">2018-02-06</text><text x="1404" y="1037">Cwiklski</text>
<text x="1368" y="1053">2018-02-08</text><text x="1407" y="1053">Chamol</text>
<text x="1389" y="1071">Kucharski</text>
<text x="1540" y="1064" font-size="3">2017-08-18</text>
<text x="1443" y="1094">167110</text><text x="1464" y="1094">1 x A</text><text x="1485" y="1094">5050</text><text x="1502" y="1094" font-size="3.2">REMOVED FROM 4324109100</text>
</g>
<g style="font-family:'Liberation Sans',sans-serif;fill:#111">
<text x="1369" y="1082" font-size="5.5">4.23</text><text x="1398" y="1083" font-size="6">1:1</text>
<text x="1371" y="1094" font-size="6">A 0</text><text x="1393" y="1094" font-size="4.5" font-weight="bold">CREO</text>
<text x="1434" y="1076" font-size="9">432 410 102 0</text>
<text x="1503" y="1078" font-size="6">005</text><text x="1528" y="1078" font-size="6">ML</text><text x="1543" y="1078" font-size="6">1/1</text>
</g>
<path class="n" d="M1412,1088 h6 v-5 l4,-2 v9 l-4,-2 Z"/>
<circle class="n" cx="1427" cy="1088" r="3"/><circle class="n" cx="1427" cy="1088" r="1.5"/>
<path class="n" d="M1425,1100 H1553"/>
</g>
</svg>
</body></html>
